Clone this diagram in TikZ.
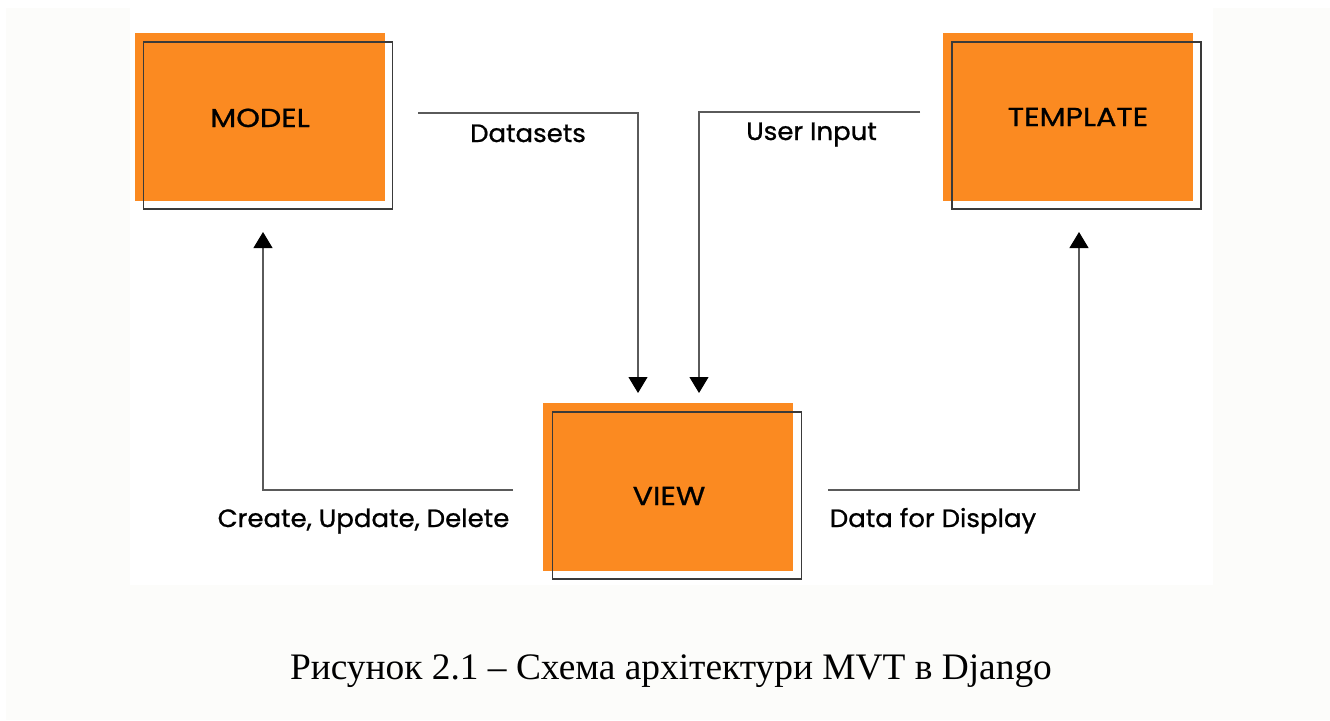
\documentclass[tikz,border=0pt]{standalone}
\usepackage{fontspec}
\setmainfont{Liberation Serif}
\newfontfamily\popbox{Poppins}[FakeStretch=1.16,FakeBold=0.9]
\newfontfamily\poplbl{Poppins}[FakeStretch=1.04,FakeBold=0.9]
\usetikzlibrary{arrows.meta}
\definecolor{orng}{HTML}{FB8A21}
\definecolor{offw}{HTML}{FCFCFA}
\definecolor{lgray}{HTML}{5A5A5A}
\definecolor{bgray}{HTML}{3A3A3A}
\begin{document}
\begin{tikzpicture}[x=1pt,y=-1pt,
  fillbox/.style={fill=orng,draw=none,minimum width=250pt,minimum height=168pt,inner sep=0pt},
  outbox/.style={draw=bgray,line width=1.3pt,minimum width=249pt,minimum height=167pt,inner sep=0pt},
  boxtext/.style={font=\popbox\fontsize{26}{30}\selectfont,inner sep=0pt,anchor=base},
  conn/.style={draw=lgray,line width=1.1pt,-{Triangle[width=19pt,length=16pt,fill=black,color=black]}},
  lbl/.style={font=\poplbl\fontsize{25}{29}\selectfont,inner sep=0pt,anchor=base}]
\useasboundingbox (0,0) rectangle (1330,720);
\fill[white] (0,0) rectangle (1330,720);
\fill[offw] (6,8) rectangle (1330,720);
\fill[white] (130,0) rectangle (1213,585);
% boxes
\node[fillbox] (model) at (260,117) {};
\node[outbox] (modelo) at (268,125.5) {};
\node[boxtext] (modelt) at (260,127) {MODEL};
\node[fillbox] (template) at (1068,117) {};
\node[outbox] (templateo) at (1076.5,125.5) {};
\node[boxtext] (templatet) at (1078,126) {TEMPLATE};
\node[fillbox] (view) at (668,487) {};
\node[outbox] (viewo) at (677,495.5) {};
\node[boxtext] (viewt) at (669,505) {VIEW};
% connector coordinates
\coordinate (d0) at (418,113);
\coordinate (d1) at (638,113);
\coordinate (d2) at (638,393);
\coordinate (u0) at (920,112);
\coordinate (u1) at (699,112);
\coordinate (u2) at (699,393);
\coordinate (c0) at (513,490);
\coordinate (c1) at (263,490);
\coordinate (c2) at (263,232);
\coordinate (p0) at (828,490);
\coordinate (p1) at (1079,490);
\coordinate (p2) at (1079,232);
\draw[conn] (d0) -- (d1) -- (d2);
\draw[conn] (u0) -- (u1) -- (u2);
\draw[conn] (c0) -- (c1) -- (c2);
\draw[conn] (p0) -- (p1) -- (p2);
% labels
\node[lbl] (ldatasets) at (528,142) {Datasets};
\node[lbl] (luser) at (811.5,140) {User Input};
\node[lbl] (lcud) at (363.5,527) {Create, Update, Delete};
\node[lbl] (ldisp) at (933,527) {Data for Display};
% caption
\node[font=\fontsize{37.4}{44}\selectfont,inner sep=0pt,anchor=base] (caption) at (671,679) {Рисунок 2.1 – Схема архітектури MVT в Django};
\end{tikzpicture}
\end{document}
